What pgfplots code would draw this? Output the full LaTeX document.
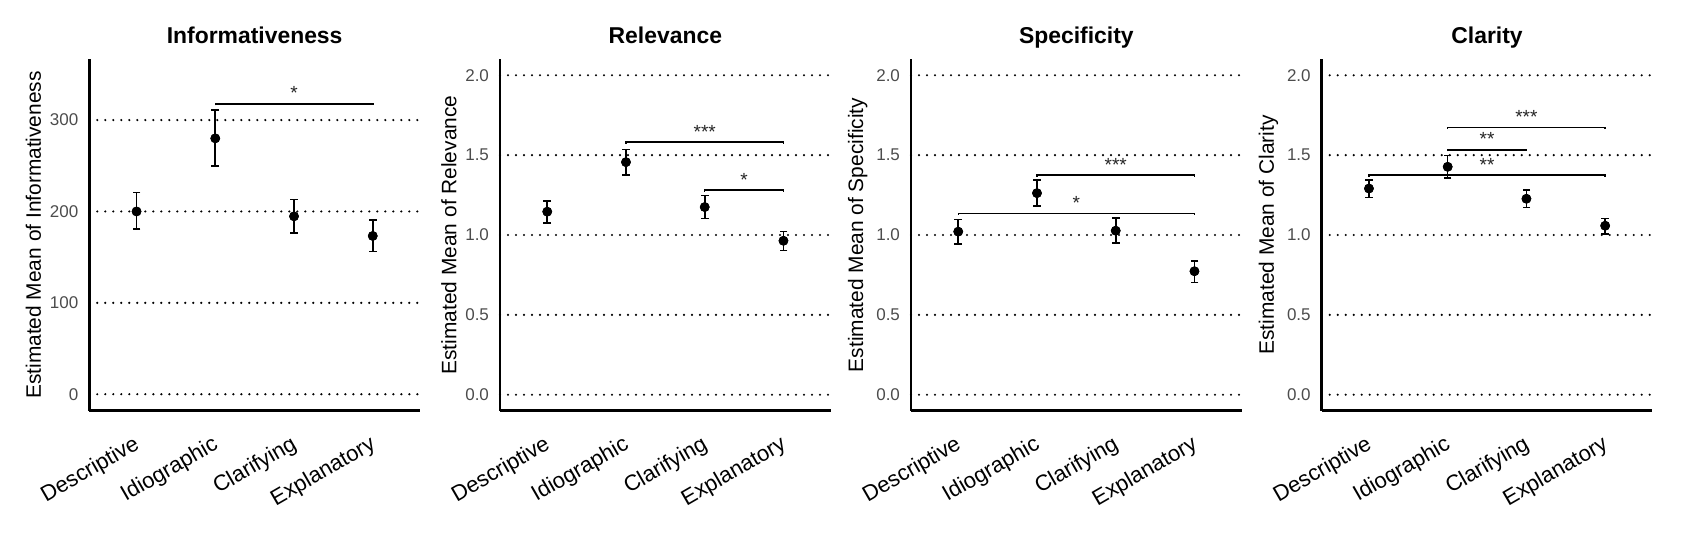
\documentclass[border=0pt]{standalone}
\usepackage{fontspec}
\setmainfont{Liberation Sans}
\usepackage{pgfplots}
\usepackage{pgfplotstable}
\pgfplotsset{compat=1.18}

% estimated means with lower / upper limits
\pgfplotstableread{
x  m      lo     hi
1  200.0  180.5  220.6
2  280.0  250.0  311.0
3  194.7  176.5  213.0
4  173.2  156.0  190.7
}\inform
\pgfplotstableread{
x  m      lo     hi
1  1.146  1.075  1.214
2  1.456  1.377  1.535
3  1.175  1.104  1.248
4  0.964  0.904  1.023
}\relev
\pgfplotstableread{
x  m      lo     hi
1  1.021  0.944  1.096
2  1.262  1.183  1.346
3  1.027  0.950  1.106
4  0.773  0.702  0.839
}\specif
\pgfplotstableread{
x  m      lo     hi
1  1.291  1.235  1.346
2  1.427  1.356  1.498
3  1.227  1.171  1.283
4  1.058  1.006  1.104
}\clar

\pgfplotsset{
  panel/.style={
    scale only axis, width=165.35pt, height=175.7pt,
    anchor=south west, clip=false,
    xmin=0.4, xmax=4.6, xtick={1,2,3,4},
    xticklabels={Descriptive,Idiographic,Clarifying,Explanatory},
    axis x line*=bottom, axis y line*=left,
    axis line style={line width=1.3pt, -},
    major tick length=0pt,
    ymajorgrids,
    grid style={black, line width=1.2pt, dash pattern=on 0pt off 4pt, line cap=round},
    /pgf/number format/assume math mode=true,
    yticklabel style={font=\fontsize{8.5}{10}\selectfont, text=black!70, xshift=-2pt},
    xticklabel style={font=\fontsize{11}{13}\selectfont, rotate=30, anchor=north east,
      inner sep=0pt, yshift=-9pt, xshift=-7.5pt},
    ylabel style={font=\fontsize{10.45}{12}\selectfont, yshift=-2.5pt},
    title style={font=\bfseries\fontsize{11.45}{13}\selectfont, at={(0.5,1)}, anchor=base, yshift=2pt},
  },
  dec/.style={ymin=-0.1, ymax=2.1, ytick={0,0.5,1,1.5,2},
    yticklabel style={/pgf/number format/.cd, fixed, fixed zerofill, precision=1}},
}

% mean, error bar and its two caps
\newcommand{\ptsof}[1]{%
  \addplot[black, line width=0.8pt, only marks, mark=none,
    error bars/.cd, y dir=both, y explicit, error mark=none,
    error bar style={line width=0.8pt}]
    table[x=x, y=m,
      y error plus expr=\thisrow{hi}-\thisrow{m},
      y error minus expr=\thisrow{m}-\thisrow{lo}] {#1};
  \addplot[black, only marks, mark=-, mark size=1.9pt, mark options={line width=0.8pt}]
    table[x=x, y=lo] {#1};
  \addplot[black, only marks, mark=-, mark size=1.9pt, mark options={line width=0.8pt}]
    table[x=x, y=hi] {#1};
  \addplot[black, only marks, mark=*, mark size=2.2pt] table[x=x, y=m] {#1};}
% bracket: x1, x2, y, y of tips, label
\newcommand{\sig}[5]{%
  \addplot[black, line width=0.75pt] coordinates {(#1,#4) (#1,#3) (#2,#3) (#2,#4)};
  \node[anchor=base, yshift=2pt, text=black!85, font=\fontsize{9.5}{11}\selectfont]
    at (axis cs:{(#1+#2)/2},#3) {#5};}

\begin{document}
\begin{tikzpicture}
\useasboundingbox (0,0) rectangle (840.5pt,268pt);

\begin{axis}[panel, at={(44.65pt,62.65pt)}, title={Informativeness},
  ylabel={Estimated Mean of Informativeness},
  ymin=-18, ymax=366.5, ytick={0,100,200,300}]
\ptsof{\inform}
\sig{2}{4}{317.6}{316}{*}
\end{axis}

\begin{axis}[panel, dec, at={(250pt,62.65pt)}, title={Relevance},
  ylabel={Estimated Mean of Relevance}]
\ptsof{\relev}
\sig{2}{4}{1.581}{1.572}{***}
\sig{3}{4}{1.281}{1.272}{*}
\end{axis}

\begin{axis}[panel, dec, at={(455.5pt,62.65pt)}, title={Specificity},
  ylabel={Estimated Mean of Specificity}]
\ptsof{\specif}
\sig{2}{4}{1.375}{1.366}{***}
\sig{1}{4}{1.135}{1.126}{*}
\end{axis}

\begin{axis}[panel, dec, at={(660.85pt,62.65pt)}, title={Clarity},
  ylabel={Estimated Mean of Clarity}]
\ptsof{\clar}
\sig{2}{4}{1.673}{1.664}{***}
\sig{2}{3}{1.533}{1.524}{**}
\sig{1}{4}{1.375}{1.366}{**}
\end{axis}
\end{tikzpicture}
\end{document}
